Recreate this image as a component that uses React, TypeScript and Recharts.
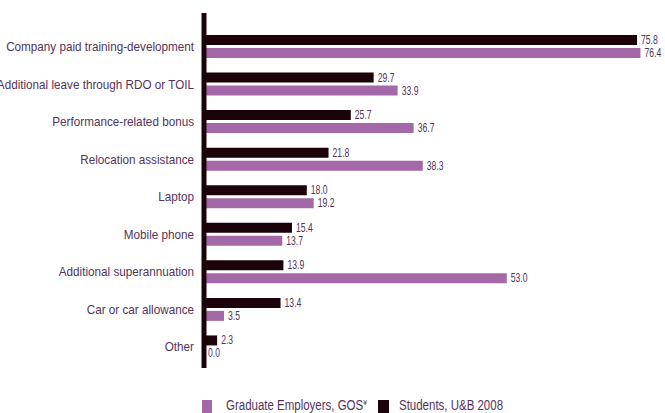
import { BarChart, Bar, XAxis, YAxis, LabelList } from "recharts";

const categories = [
  "Company paid training-development",
  "Additional leave through RDO or TOIL",
  "Performance-related bonus",
  "Relocation assistance",
  "Laptop",
  "Mobile phone",
  "Additional superannuation",
  "Car or car allowance",
  "Other",
];
const students = [75.8, 29.7, 25.7, 21.8, 18.0, 15.4, 13.9, 13.4, 2.3];
const employers = [76.4, 33.9, 36.7, 38.3, 19.2, 13.7, 53.0, 3.5, 0.0];

const DARK = "#1b0309";
const PURPLE = "#a468a8";
const TEXT = "#54335a";
const FONT = "'Liberation Sans', sans-serif";

const data = categories.map((name, i) => ({
  name,
  students: students[i],
  employers: employers[i],
}));

// narrow the glyphs a bit, the original uses a condensed face
const CategoryTick = (props: any) => {
  const { x, y, payload } = props;
  return (
    <text
      transform={`translate(${x},${y}) scale(0.9,1)`}
      textAnchor="end"
      dominantBaseline="central"
      fill={TEXT}
      fontSize={13}
      fontFamily={FONT}
    >
      {payload.value}
    </text>
  );
};

const ValueLabel = (props: any) => {
  const { x, y, width, height, value } = props;
  const tx = Number(x) + Number(width) + 4;
  const ty = Number(y) + Number(height) / 2;
  return (
    <text
      transform={`translate(${tx},${ty}) scale(0.72,1)`}
      dominantBaseline="central"
      fill={TEXT}
      fontSize={12}
      fontFamily={FONT}
    >
      {Number(value).toFixed(1)}
    </text>
  );
};

const legendText: any = {
  position: "absolute",
  top: 398,
  fontSize: 14,
  lineHeight: "14px",
  color: TEXT,
  whiteSpace: "nowrap",
  transform: "scaleX(0.82)",
  transformOrigin: "left center",
};

export default function App() {
  return (
    <div style={{ position: "absolute", left: 0, top: 0, width: 665, height: 413, background: "#fff", fontFamily: FONT, overflow: "hidden" }}>
      <BarChart
        width={665}
        height={370}
        data={data}
        layout="vertical"
        margin={{ top: 13, right: 4, bottom: 2, left: 0 }}
        barSize={10}
        barGap={3}
      >
        <XAxis type="number" domain={[0, 80]} hide />
        <YAxis
          type="category"
          dataKey="name"
          width={204}
          padding={{ top: 15, bottom: 2 }}
          axisLine={{ stroke: DARK, strokeWidth: 5 }}
          tickLine={false}
          tickMargin={4}
          interval={0}
          tick={<CategoryTick />}
        />
        <Bar dataKey="students" fill={DARK} isAnimationActive={false}>
          <LabelList dataKey="students" content={<ValueLabel />} />
        </Bar>
        <Bar dataKey="employers" fill={PURPLE} minPointSize={0.01} isAnimationActive={false}>
          <LabelList dataKey="employers" content={<ValueLabel />} />
        </Bar>
      </BarChart>
      <span style={{ position: "absolute", left: 202, top: 400, width: 10, height: 13, background: PURPLE }} />
      <span style={{ ...legendText, left: 226 }}>
        Graduate Employers, GOS
        <span style={{ fontSize: 8, position: "relative", top: -5, lineHeight: 0 }}>¥</span>
      </span>
      <span style={{ position: "absolute", left: 378, top: 400, width: 11, height: 13, background: DARK }} />
      <span style={{ ...legendText, left: 399 }}>Students, U&amp;B 2008</span>
    </div>
  );
}
